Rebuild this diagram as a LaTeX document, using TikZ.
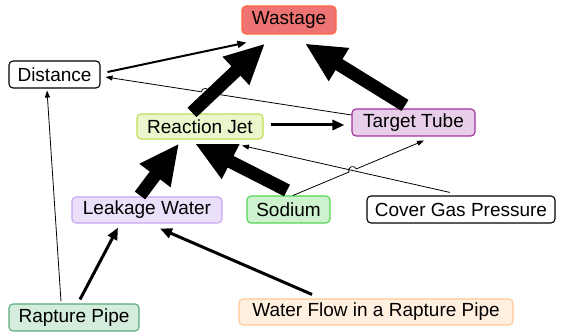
\documentclass[tikz,border=0pt]{standalone}
\usepackage{fontspec}
\setmainfont{Liberation Sans}
\usetikzlibrary{arrows.meta,calc,intersections}
\definecolor{wfill}{RGB}{240,115,115}
\definecolor{wdraw}{RGB}{255,105,60}
\definecolor{rjfill}{RGB}{236,246,204}
\definecolor{rjdraw}{RGB}{190,222,80}
\definecolor{ttfill}{RGB}{232,206,232}
\definecolor{ttdraw}{RGB}{160,50,160}
\definecolor{lwfill}{RGB}{234,224,250}
\definecolor{lwdraw}{RGB}{200,165,240}
\definecolor{sofill}{RGB}{205,242,205}
\definecolor{sodraw}{RGB}{80,215,80}
\definecolor{rpfill}{RGB}{212,236,220}
\definecolor{rpdraw}{RGB}{90,170,120}
\definecolor{wffill}{RGB}{255,240,224}
\definecolor{wfdraw}{RGB}{255,200,150}
\begin{document}
\begin{tikzpicture}[x=1pt,y=1pt,
 box/.style={draw,rounded corners=4pt,line width=1.1pt,inner sep=0pt,minimum height=27pt,font=\fontsize{19}{22}\selectfont},
 big/.style={line width=13pt,-{Triangle[length=40pt,width=36pt]}},
 mid/.style={line width=3pt,-{Triangle[length=12pt,width=10pt]}},
 med/.style={line width=2pt,-{Triangle[length=9pt,width=7pt]}},
 fine/.style={line width=0.8pt,-{Triangle[length=7pt,width=5pt]}}]
\useasboundingbox (0,0) rectangle (562,-336);

\node[box,fill=wfill,draw=wdraw,minimum width=94pt,minimum height=28pt] (was) at (289,-20) {Wastage};
\node[box,fill=white,draw=black,minimum width=91pt] (dist) at (54.5,-74.5) {Distance};
\node[box,fill=rjfill,draw=rjdraw,minimum width=126pt,minimum height=25pt] (rj) at (200,-126.5) {Reaction Jet};
\node[box,fill=ttfill,draw=ttdraw,minimum width=123pt] (tt) at (413.5,-122.5) {Target Tube};
\node[box,fill=lwfill,draw=lwdraw,minimum width=150pt,minimum height=26pt] (lw) at (147,-210) {Leakage Water};
\node[box,fill=sofill,draw=sodraw,minimum width=83pt] (so) at (288.5,-209.5) {Sodium};
\node[box,fill=white,draw=black,minimum width=188pt] (cg) at (461,-209.5) {Cover Gas Pressure};
\node[box,fill=rpfill,draw=rpdraw,minimum width=130pt] (rp) at (74,-317.5) {Rapture Pipe};
\node[box,fill=wffill,draw=wfdraw,minimum width=274pt,minimum height=26pt] (wf) at (376,-312) {Water Flow in a Rapture Pipe};

% end points
\coordinate (a1) at ([xshift=4.5pt]so.north);
\coordinate (a2) at ([xshift=10.5pt,yshift=-4pt]tt.south);
\coordinate (b1) at ([xshift=-11pt,yshift=3pt]cg.north);
\coordinate (b2) at ([xshift=42pt,yshift=-6pt]rj.south);
\coordinate (c1) at ([yshift=7.5pt]tt.west);
\coordinate (c2) at ([xshift=5pt,yshift=-2.5pt]dist.east);
\coordinate (e1) at ([xshift=-8pt,yshift=1pt]rj.north);
\coordinate (e2) at ([xshift=-24pt,yshift=-9pt]was.south);
\path[name path=pa] (a1) -- (a2);
\path[name path=pb] (b1) -- (b2);
\path[name path=pc] (c1) -- (c2);
\path[name path=pe] (e1) -- (e2);
\path[name intersections={of=pa and pb,by=h1}];
\path[name intersections={of=pc and pe,by=h2}];
\coordinate (hc) at ($(h2)!7pt!(c2)$);

% thin connectors
\draw[fine] (b1) -- (b2);
\draw[fine] let \p1=($(a2)-(a1)$), \n1={atan2(\y1,\x1)} in
  (a1) -- ($(h1)!4pt!(a1)$) arc[start angle=\n1+180,end angle=\n1,radius=4pt] -- (a2);
\draw[fine] let \p1=($(c2)-(c1)$), \n1={atan2(\y1,\x1)} in
  (c1) -- ($(hc)!4pt!(c1)$) arc[start angle=\n1+180,end angle=\n1+360,radius=4pt] -- (c2);
\draw[fine] ([xshift=-13pt,yshift=2pt]rp.north) -- ([xshift=-7.5pt,yshift=-2pt]dist.south);

% medium connectors
\draw[med] ([xshift=7pt,yshift=2.5pt]dist.east) -- ([xshift=5pt,yshift=-8pt]was.south west);
\draw[mid] ([xshift=7pt,yshift=1.5pt]rj.east) -- ([xshift=-7pt,yshift=-2.5pt]tt.west);
\draw[mid] ([xshift=6pt,yshift=4pt]rp.north) -- ([xshift=-29pt,yshift=-4pt]lw.south);
\draw[mid] ([xshift=-64pt,yshift=4pt]wf.north) -- ([xshift=13pt,yshift=-5pt]lw.south);

% big connectors
\draw[big] (e1) -- (e2);
\draw[big] ([xshift=-8.5pt,yshift=3pt]tt.north) -- ([xshift=16pt,yshift=-9pt]was.south);
\draw[big] ([xshift=-1.5pt,yshift=5pt]so.north) -- ([xshift=-5pt,yshift=-4pt]rj.south);
\draw[big] ([xshift=-7pt,yshift=1pt]lw.north) -- ([xshift=-21pt,yshift=-4pt]rj.south);
\end{tikzpicture}
\end{document}
